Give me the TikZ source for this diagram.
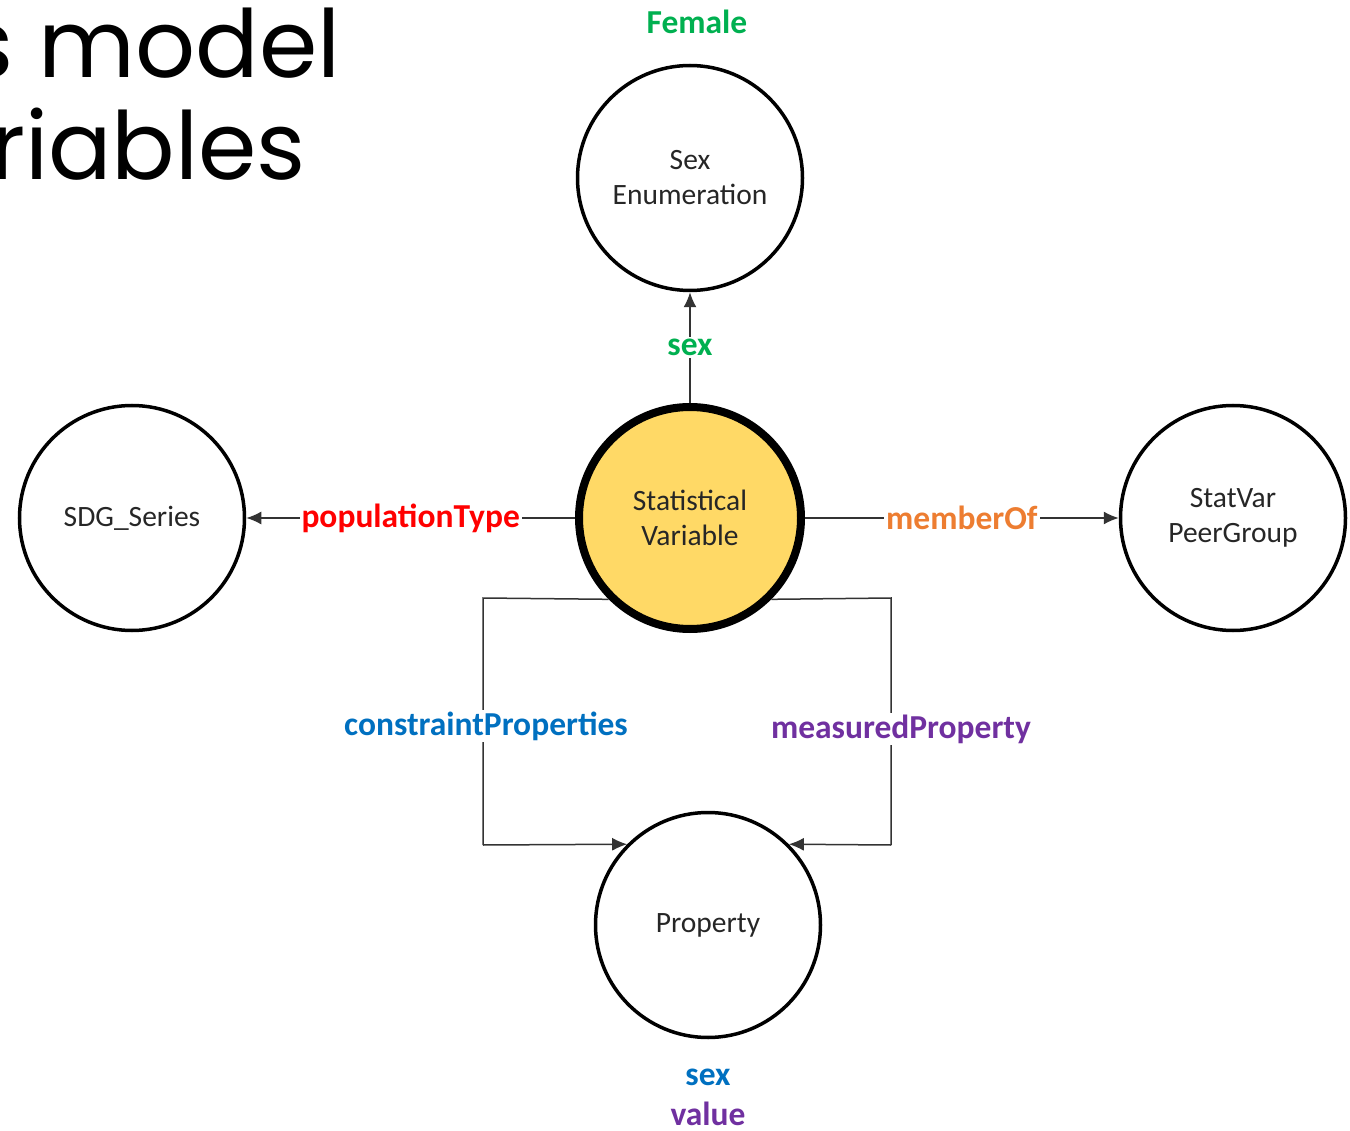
\documentclass[tikz,border=0pt]{standalone}
\usepackage{fontspec}
\setmainfont{Carlito}
\newfontfamily\titlefont{Poppins}
\usetikzlibrary{arrows.meta}
\definecolor{cgreen}{HTML}{00B050}
\definecolor{cred}{HTML}{FF0000}
\definecolor{corange}{HTML}{ED7D31}
\definecolor{cblue}{HTML}{0070C0}
\definecolor{cpurple}{HTML}{7030A0}
\definecolor{cgold}{HTML}{FFD966}
\definecolor{ctext}{HTML}{262626}
\begin{document}
\begin{tikzpicture}[x=1pt,y=-1pt,
  entity/.style={circle,draw=black,line width=3.5pt,minimum size=225pt,inner sep=0pt,
    align=center,text=ctext,font=\fontsize{29.5}{35}\selectfont},
  hub/.style={entity,fill=cgold,line width=8pt,minimum size=222pt},
  link/.style={draw=black!80,line width=1.5pt,line join=miter},
  arr/.style={link,-{Latex[length=15pt,width=13pt]}},
  lbl/.style={fill=white,inner sep=2pt,font=\bfseries\fontsize{33.5}{38}\selectfont},
  note/.style={inner sep=0pt,font=\bfseries\fontsize{33.5}{38}\selectfont},
  heading/.style={anchor=base east,inner sep=0pt,font=\titlefont\fontsize{94}{104}\selectfont}]
\clip (0,0) rectangle (1350,1131);
\useasboundingbox (0,0) rectangle (1350,1131);

% heading fragment
\node[heading] (t1) at (341,78) {s model};
\node[heading] (t2) at (306,180) {riables};

% entities
\node[entity] (sexenum) at (690,178) {Sex\\Enumeration};
\node[hub] (sv) at (690,518) {Statistical\\Variable};
\node[entity] (sdg) at (132,518) {SDG\_Series};
\node[entity] (peer) at (1233,518) {StatVar\\PeerGroup};
\node[entity] (prop) at (708,925) {Property};

% value annotations
\node[note,text=cgreen] (female) at (697,22) {Female};
\node[note,text=cblue] (vsex) at (708,1077) {sex};
\node[note,text=cpurple] (vvalue) at (708,1114) {value};

% bend points of the property links
\coordinate (cl1) at (483,598);
\coordinate (cl2) at (483,845);
\coordinate (mr1) at (891,598);
\coordinate (mr2) at (891,845);

% connectors
\draw[arr] (sv.north) -- node[lbl,text=cgreen,pos=0.5] {sex} (sexenum.south);
\draw[arr] (sv.west) -- node[lbl,text=cred,pos=0.5] {populationType} (sdg.east);
\draw[arr] (sv.east) -- node[lbl,text=corange,pos=0.5] {memberOf} (peer.west);
\draw[link] (sv.-135) -- (cl1) -- (cl2);
\draw[arr] (cl2) -- (prop.135);
\node[lbl,text=cblue] (cplabel) at (486,726) {constraintProperties};
\draw[link] (sv.-45) -- (mr1) -- (mr2);
\draw[arr] (mr2) -- (prop.45);
\node[lbl,text=cpurple] (mplabel) at (901,729) {measuredProperty};
\end{tikzpicture}
\end{document}
